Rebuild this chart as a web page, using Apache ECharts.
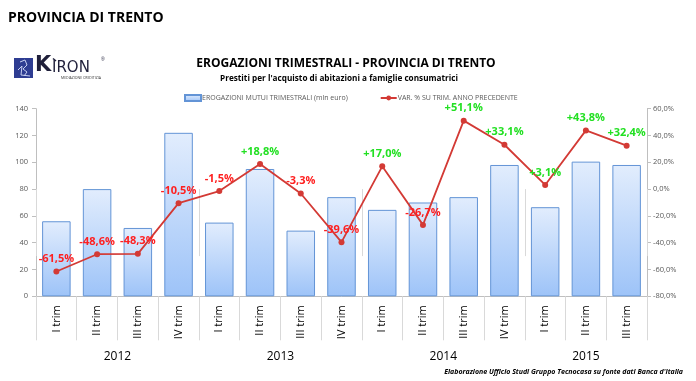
<!DOCTYPE html>
<html><head><meta charset="utf-8">
<script src="https://cdn.jsdelivr.net/npm/echarts@6/dist/echarts.min.js"></script>
<style>html,body{margin:0;padding:0;background:#fff}#c{width:696px;height:381px}</style>
</head><body><div id="c"></div>
<script>
const categories = ['I trim','II trim','III trim','IV trim','I trim','II trim','III trim','IV trim','I trim','II trim','III trim','IV trim','I trim','II trim','III trim'];
const years = ['2012','2013','2014','2015'];
const yearCenters = [2, 6, 10, 13.5];
const yearBounds = [0, 4, 8, 12, 15];
const erogazioni = [56, 80, 51, 122, 55, 95, 49, 74, 64.5, 70, 74, 98, 66.5, 100.5, 98];
const variazione = [-61.5, -48.6, -48.3, -10.5, -1.5, 18.8, -3.3, -39.6, 17.0, -26.7, 51.1, 33.1, 3.1, 43.8, 32.4];
const leftTicks = [0, 140, 20];
const rightTicks = [-80, 60, 20];

const FONT = '"Open Sans", "Noto Sans", sans-serif';
const chart = echarts.init(document.getElementById('c'), null, {renderer: 'canvas'});
const fmtPct = v => (v > 0 ? '+' : '') + v.toFixed(1).replace('.', ',') + '%';

chart.setOption({
  animation: false,
  backgroundColor: '#fff',
  textStyle: {fontFamily: FONT},
  title: [
    {text: 'PROVINCIA DI TRENTO', left: 8, top: 11, padding: 0,
     textStyle: {fontFamily: FONT, fontSize: 14, fontWeight: 'bold', color: '#000'}},
    {text: 'EROGAZIONI TRIMESTRALI - PROVINCIA DI TRENTO', left: 346, textAlign: 'center', top: 58, padding: 0,
     textStyle: {fontFamily: FONT, fontSize: 12, fontWeight: 'bold', color: '#000'}},
    {text: "Prestiti per l'acquisto di abitazioni a famiglie consumatrici", left: 339, textAlign: 'center', top: 75, padding: 0,
     textStyle: {fontFamily: FONT, fontSize: 8.2, fontWeight: 'bold', color: '#000'}}
  ],
  legend: {
    left: 184, top: 94, itemGap: 32, itemWidth: 16, itemHeight: 6, padding: 0,
    textStyle: {fontFamily: FONT, fontSize: 7, color: '#595959', padding: [0,0,0,-4]},
    data: [
      {name: 'EROGAZIONI MUTUI TRIMESTRALI (mln euro)', icon: 'rect'},
      {name: 'VAR. % SU TRIM. ANNO PRECEDENTE'}
    ]
  },
  grid: {left: 36, right: 49, top: 108.7, bottom: 84.7, containLabel: false},
  xAxis: [
    {type: 'category', data: categories, position: 'bottom',
     axisLine: {lineStyle: {color: '#bfbfbf'}},
     axisTick: {show: true, interval: 0, length: 44, lineStyle: {color: '#d9d9d9'}},
     axisLabel: {interval: 0, rotate: 90, margin: 9, fontSize: 11, color: '#000', fontFamily: FONT}},
    {type: 'value', min: 0, max: 15, position: 'bottom',
     axisLine: {show: false}, splitLine: {show: false},
     axisTick: {show: true, customValues: yearBounds, length: 67, lineStyle: {color: '#d9d9d9'}},
     axisLabel: {customValues: yearCenters, margin: 54, fontSize: 12, color: '#000', fontFamily: FONT,
       formatter: v => years[yearCenters.indexOf(v)]}}
  ],
  yAxis: [
    {type: 'value', min: leftTicks[0], max: leftTicks[1], interval: leftTicks[2],
     axisLine: {show: true, lineStyle: {color: '#bfbfbf'}},
     axisTick: {show: true, length: 4, lineStyle: {color: '#bfbfbf'}},
     splitLine: {show: false},
     axisLabel: {fontSize: 7.5, color: '#595959', margin: 8, fontFamily: FONT}},
    {type: 'value', min: rightTicks[0], max: rightTicks[1], interval: rightTicks[2], position: 'right',
     axisLine: {show: true, lineStyle: {color: '#bfbfbf'}},
     axisTick: {show: true, length: 4, lineStyle: {color: '#bfbfbf'}},
     splitLine: {show: false},
     axisLabel: {fontSize: 7.5, color: '#595959', margin: 6, fontFamily: FONT,
       formatter: v => v.toFixed(1).replace('.', ',') + '%'}}
  ],
  series: [
    {name: 'EROGAZIONI MUTUI TRIMESTRALI (mln euro)', type: 'bar', xAxisIndex: 0, yAxisIndex: 0,
     data: erogazioni, barCategoryGap: '30%',
     itemStyle: {
       color: new echarts.graphic.LinearGradient(0, 0, 0, 1, [
         {offset: 0, color: '#e2edfd'}, {offset: 1, color: '#9dc3f8'}]),
       borderColor: '#6394d6', borderWidth: 1}},
    {name: 'VAR. % SU TRIM. ANNO PRECEDENTE', type: 'line', xAxisIndex: 0, yAxisIndex: 1,
     data: variazione.map(v => ({value: v, label: {color: v > 0 ? '#22e022' : '#ff1f1f'}})),
     symbol: 'circle', symbolSize: 6,
     lineStyle: {color: '#d33a35', width: 1.8},
     itemStyle: {color: '#d33a35'},
     label: {show: true, position: 'top', distance: 4, fontSize: 11, fontWeight: 'bold', fontFamily: FONT,
       formatter: p => fmtPct(p.value)},
     labelLayout: {hideOverlap: false}}
  ],
  graphic: [
    {type: 'rect', shape: {x: 14, y: 58, width: 19, height: 20}, style: {fill: '#2e3d92'}},
    {type: 'polyline', shape: {points: [[20,62],[25,60],[27,65],[23,69],[27,72],[24,76]]},
     style: {stroke: '#c8d0f0', lineWidth: 1, fill: null}},
    {type: 'polyline', shape: {points: [[18,70],[22,66],[21,75],[30,76]]},
     style: {stroke: '#c8d0f0', lineWidth: 1, fill: null}},
    {type: 'text', x: 35, y: 76, style: {text: 'K', fontSize: 21, fontWeight: 'bold', fontFamily: 'DejaVu Sans', fill: '#1f1f3a', textVerticalAlign: 'bottom', textBaseline: 'bottom'}},
    {type: 'text', x: 52, y: 76, style: {text: 'IRON', fontSize: 15, fontFamily: 'DejaVu Sans', fill: '#1f1f3a', textVerticalAlign: 'bottom', textBaseline: 'bottom'}},
    {type: 'line', shape: {x1: 53, y1: 58.5, x2: 56, y2: 61}, style: {stroke: '#1f1f3a', lineWidth: 1.5}},
    {type: 'text', x: 101, y: 57, style: {text: '®', fontSize: 5, fill: '#1f1f3a'}},
    {type: 'text', x: 61, y: 76, style: {text: 'MEDIAZIONE CREDITIZIA', fontSize: 3.5, fill: '#333', fontFamily: FONT}},
    {type: 'text', right: 13, y: 368, style: {text: "Elaborazione Ufficio Studi Gruppo Tecnocasa su fonte dati Banca d'Italia",
      fontSize: 7, fontStyle: 'italic', fontWeight: 'bold', fill: '#000', fontFamily: FONT}}
  ]
});
</script></body></html>
